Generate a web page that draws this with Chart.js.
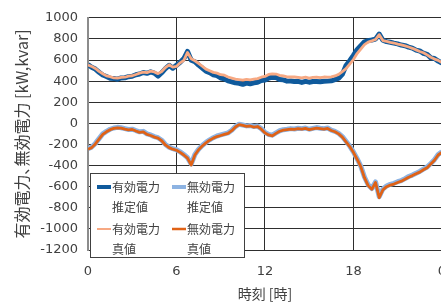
<!DOCTYPE html>
<html>
<head>
<meta charset="utf-8">
<script src="https://cdn.jsdelivr.net/npm/chart.js@4.4.1/dist/chart.umd.min.js"></script>
<style>
  html, body { margin:0; padding:0; background:#fff; overflow:hidden; }
  #wrap { width:460px; height:304px; position:relative; }
</style>
</head>
<body>
<div id="wrap"><canvas id="chart"></canvas></div>
<script>
// 15-minute samples, 0h .. 24h
const stepHours = 0.25;

const activeEst = [
  556,532,514,484,458,444,428,426,
  418,430,432,442,446,460,468,482,
  474,488,476,448,480,518,550,522,
  550,578,614,682,598,584,552,524,
  494,480,460,452,430,422,402,394,
  384,380,370,382,374,384,390,406,
  410,430,436,434,416,412,400,402,
  396,398,388,398,390,396,396,394,
  398,400,403,414,428,464,548,594,
  644,698,736,772,784,790,798,846,
  788,774,768,760,753,742,736,722,
  713,694,686,664,654,620,614,590,
  572
];

const reactiveEst = [
  -240,-225,-190,-145,-100,-76,-56,-44,
  -38,-42,-50,-58,-55,-68,-80,-76,
  -100,-110,-126,-136,-160,-200,-225,-240,
  -250,-270,-295,-325,-385,-295,-246,-210,
  -180,-156,-136,-120,-110,-100,-90,-66,
  -30,-8,-16,-24,-20,-30,-26,-50,
  -85,-105,-112,-90,-70,-60,-56,-50,
  -54,-46,-50,-44,-56,-48,-40,-46,
  -50,-44,-64,-76,-95,-125,-170,-215,
  -270,-335,-405,-508,-582,-618,-555,-695,
  -622,-594,-578,-568,-553,-542,-524,-504,
  -490,-472,-456,-434,-414,-380,-344,-295,
  -270
];

const activeTrue = [
  552,540,520,492,470,450,442,430,
  428,436,437,447,451,463,476,486,
  481,495,487,471,491,529,555,533,
  539,573,597,672,612,593,569,541,
  514,499,483,476,461,456,439,429,
  419,415,409,417,411,419,424,437,
  444,463,469,467,454,449,441,439,
  439,436,431,437,429,435,437,433,
  439,437,441,449,464,491,519,561,
  604,661,704,746,769,781,794,840,
  784,776,767,761,751,743,734,723,
  711,696,681,669,649,626,609,597,
  575
];

const reactiveTrue = [
  -245,-230,-195,-150,-105,-80,-60,-48,
  -42,-45,-55,-62,-58,-72,-85,-80,
  -105,-115,-130,-140,-165,-205,-230,-245,
  -255,-275,-300,-330,-395,-300,-250,-215,
  -185,-160,-140,-125,-115,-105,-95,-70,
  -35,-12,-20,-28,-25,-35,-30,-55,
  -90,-110,-118,-95,-75,-65,-60,-55,
  -58,-50,-55,-48,-60,-52,-45,-50,
  -55,-48,-68,-80,-100,-130,-175,-220,
  -275,-340,-410,-515,-590,-625,-560,-705,
  -630,-600,-585,-575,-560,-548,-530,-510,
  -495,-478,-462,-440,-420,-385,-350,-300,
  -275
];

const xTicks = [0, 6, 12, 18, 24];
const xTickLabels = ['0', '6', '12', '18', '0'];

const seriesNames = [
  ['有効電力', '推定値'],
  ['無効電力', '推定値'],
  ['有効電力', '真値'],
  ['無効電力', '真値']
];
const seriesColors = ['#0f5a9c', '#8db3e2', '#f7a983', '#e06216'];

const textColor = '#404040';
const gridColor = '#2e2e2e';
const cjk = '"Noto Sans CJK JP", "Noto Sans", sans-serif';
const digits = '"DejaVu Sans", sans-serif';

function toPoints(arr){
  return arr.map((v, i) => ({x: i * stepHours, y: v}));
}

function line(label, arr, color, width, order){
  return {
    label,
    data: toPoints(arr),
    borderColor: color,
    backgroundColor: color,
    borderWidth: width,
    pointRadius: 0,
    tension: 0,
    borderJoinStyle: 'round',
    order
  };
}

// legend drawn as a boxed 2x2 grid, two text lines per entry
const boxLegend = {
  id: 'boxLegend',
  afterDatasetsDraw(chart){
    const ctx = chart.ctx;
    const bx = 90, by = 173, bw = 154, bh = 84;
    ctx.save();
    ctx.fillStyle = '#fff';
    ctx.fillRect(bx, by, bw, bh);
    ctx.strokeStyle = '#404040';
    ctx.lineWidth = 1;
    ctx.strokeRect(bx + 0.5, by + 0.5, bw, bh);
    ctx.font = '12px ' + cjk;
    ctx.textBaseline = 'middle';
    ctx.textAlign = 'left';
    const cols = [97, 172];
    const rows = [187, 229];
    const widths = [4, 4, 2, 2.5];
    seriesNames.forEach((name, i) => {
      const lx = cols[i % 2];
      const ly = rows[Math.floor(i / 2)];
      ctx.strokeStyle = seriesColors[i];
      ctx.lineWidth = widths[i];
      ctx.beginPath();
      ctx.moveTo(lx, ly);
      ctx.lineTo(lx + 14, ly);
      ctx.stroke();
      ctx.fillStyle = textColor;
      ctx.fillText(name[0], lx + 15, ly);
      ctx.fillText(name[1], lx + 15, ly + 20);
    });
    ctx.restore();
  }
};

new Chart(document.getElementById('chart'), {
  type: 'line',
  data: {
    datasets: [
      line('有効電力 推定値', activeEst, seriesColors[0], 5, 2),
      line('無効電力 推定値', reactiveEst, seriesColors[1], 5, 2),
      line('有効電力 真値', activeTrue, seriesColors[2], 2.8, 1),
      line('無効電力 真値', reactiveTrue, seriesColors[3], 2.8, 1)
    ]
  },
  options: {
    responsive: true,
    maintainAspectRatio: false,
    animation: false,
    layout: {padding: {top: 14, right: 18, bottom: 0, left: 0}},
    plugins: {
      legend: {display: false},
      tooltip: {enabled: false}
    },
    scales: {
      x: {
        type: 'linear',
        min: 0,
        max: 24,
        afterFit(scale){ scale.height = 54; },
        afterBuildTicks(scale){ scale.ticks = xTicks.map(v => ({value: v})); },
        grid: {color: gridColor, lineWidth: 1, drawTicks: false},
        border: {color: gridColor, width: 1},
        ticks: {
          color: textColor,
          padding: 14,
          maxRotation: 0,
          autoSkip: false,
          font: {family: digits, size: 13},
          callback(v){
            const i = xTicks.indexOf(v);
            return i >= 0 ? xTickLabels[i] : '';
          }
        },
        title: {
          display: true,
          text: '時刻 [時]',
          color: textColor,
          font: {family: cjk, size: 14},
          padding: {top: 0, bottom: 2}
        }
      },
      y: {
        min: -1200,
        max: 1000,
        afterFit(scale){ scale.width = 88; },
        grid: {color: gridColor, lineWidth: 1, drawTicks: false},
        border: {color: '#8c8c8c', width: 2},
        ticks: {
          stepSize: 200,
          color: textColor,
          padding: 10,
          font: {family: digits, size: 13},
          callback(v){ return String(v); }
        },
        title: {
          display: true,
          text: '有効電力､無効電力 [kW,kvar]',
          color: textColor,
          font: {family: cjk, size: 16},
          padding: {top: 12, bottom: 0}
        }
      }
    }
  },
  plugins: [boxLegend]
});
</script>
</body>
</html>
